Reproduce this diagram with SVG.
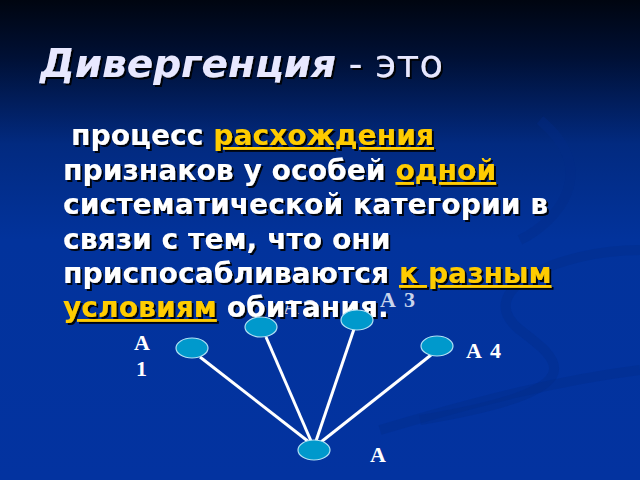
<svg xmlns="http://www.w3.org/2000/svg" width="640" height="480" viewBox="0 0 640 480">
<defs>
<linearGradient id="bg" x1="0" y1="0" x2="0" y2="1">
<stop offset="0" stop-color="#000510"/>
<stop offset="0.12" stop-color="#001035"/>
<stop offset="0.3" stop-color="#022a80"/>
<stop offset="0.5" stop-color="#02339c"/>
<stop offset="1" stop-color="#0333a0"/>
</linearGradient>
<filter id="sh" x="-5%" y="-5%" width="110%" height="120%">
<feDropShadow dx="2" dy="2" stdDeviation="0.6" flood-color="#000" flood-opacity="0.9"/>
</filter>
<style>
.title{font-family:"DejaVu Sans",Verdana,sans-serif;font-size:39px;fill:#e8e8ff}
.body{font-family:"DejaVu Sans",Verdana,sans-serif;font-size:28.2px;font-weight:bold;fill:#ffffff}
.hl{fill:#ffcc00;text-decoration:underline}
.lbl{font-family:"Liberation Serif","Times New Roman",serif;font-size:22px;font-weight:bold;fill:#ffffff}
.node{fill:#0099cc;stroke:#b0e0f4;stroke-width:1.2}
.edge{stroke:#ffffff;stroke-width:3;fill:none}
.swirl{fill:none;stroke:#022a88;stroke-width:10;opacity:0.35}
</style>
</defs>
<rect width="640" height="480" fill="url(#bg)"/>
<g id="background-swirls">
<path class="swirl" d="M640 250 C560 250 470 290 520 330 C560 360 600 390 420 420"/>
<path class="swirl" d="M640 370 C560 380 480 400 380 430"/>
<path class="swirl" d="M540 120 C600 170 560 220 520 240"/>
</g>
<g id="label-A2"><text class="lbl" x="283" y="314" style="fill:#c8d4ec">A <tspan x="305">2</tspan></text></g>
<g id="title" filter="url(#sh)">
<text class="title" x="40" y="77"><tspan font-weight="bold" font-style="italic">Дивергенция</tspan> - это</text>
</g>
<g id="body" class="body" filter="url(#sh)">
<text x="71" y="145">процесс <tspan class="hl">расхождения</tspan></text>
<text x="63" y="180">признаков у особей <tspan class="hl">одной</tspan></text>
<text x="63" y="214">систематической категории в</text>
<text x="63" y="249">связи с тем, что они</text>
<text x="63" y="283">приспосабливаются <tspan class="hl">к разным</tspan></text>
<text x="63" y="317"><tspan class="hl">условиям</tspan> обитания.</text>
</g>
<g id="connectors">
<line class="edge" x1="200" y1="357" x2="309" y2="442"/>
<line class="edge" x1="266" y1="337" x2="311" y2="441"/>
<line class="edge" x1="354" y1="329" x2="316" y2="441"/>
<line class="edge" x1="431" y1="355" x2="321" y2="442"/>
</g>
<g id="node-A1"><ellipse class="node" cx="192" cy="348" rx="16" ry="10"/><text class="lbl" x="134" y="350">A</text><text class="lbl" x="136" y="376">1</text></g>
<g id="node-A2"><ellipse class="node" cx="261" cy="327" rx="16" ry="10"/></g>
<g id="node-A3"><ellipse class="node" cx="357" cy="320" rx="16" ry="10"/><text class="lbl" x="380" y="307" style="fill:#c8d4ec">A <tspan x="404">3</tspan></text></g>
<g id="node-A4"><ellipse class="node" cx="437" cy="346" rx="16" ry="10"/><text class="lbl" x="466" y="358">A <tspan x="490">4</tspan></text></g>
<g id="node-A"><ellipse class="node" cx="314" cy="450" rx="16" ry="10"/><text class="lbl" x="370" y="462">A</text></g>
</svg>
